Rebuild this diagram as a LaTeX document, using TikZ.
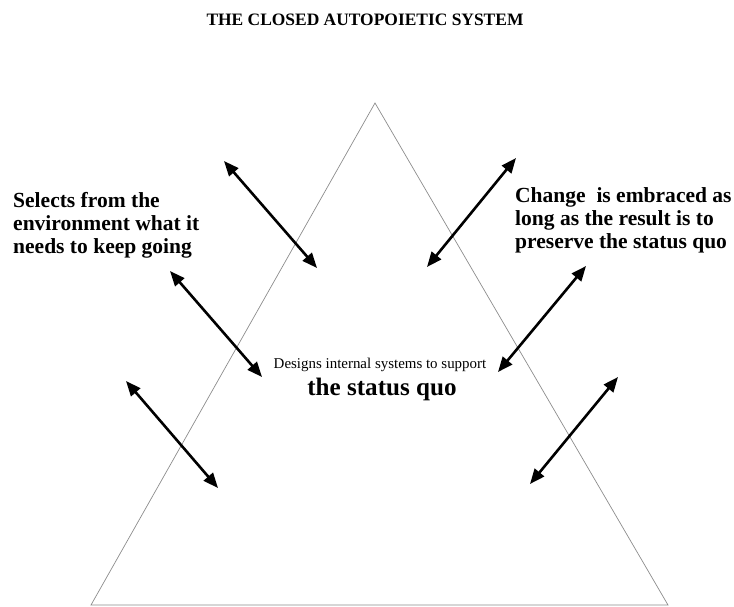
\documentclass[tikz,border=0pt]{standalone}
\usepackage{fontspec}
\setmainfont{Liberation Serif}
\usetikzlibrary{arrows.meta}
\begin{document}
\begin{tikzpicture}[x=1bp,y=-1bp,
  triedge/.style={draw=black!45, line width=0.7bp},
  dblarrow/.style={{Triangle[length=15bp,width=12bp]}-{Triangle[length=15bp,width=12bp]}, line width=2.6bp, black},
  bodytext/.style={inner sep=0pt, anchor=base west, font=\bfseries\fontsize{21.6}{23}\selectfont},
  ]
\path[use as bounding box] (0,0) rectangle (734,607);
% triangle
\coordinate (apex) at (375,103);
\coordinate (bl) at (91,605);
\coordinate (br) at (668,605);
\draw[triedge] (apex) -- (br) -- (bl) -- cycle;
% title
\node[inner sep=0pt, anchor=base, font=\bfseries\fontsize{17.5}{20}\selectfont] (title) at (365,26) {THE CLOSED AUTOPOIETIC SYSTEM};
% side texts
\node[bodytext] (left) at (13,208) {\begin{tabular}[t]{@{}l@{}}Selects from the\\ environment what it\\ needs to keep going\end{tabular}};
\node[bodytext] (right) at (515,203) {\begin{tabular}[t]{@{}l@{}}Change\ \ is embraced as\\ long as the result is to\\ preserve the status quo\end{tabular}};
% center texts
\node[inner sep=0pt, anchor=base, font=\fontsize{15}{17}\selectfont] (design) at (380,368) {Designs internal systems to support};
\node[inner sep=0pt, anchor=base, font=\bfseries\fontsize{25.2}{28}\selectfont] (quo) at (382,395) {the status quo};
% arrows
\coordinate (a1s) at (224,161); \coordinate (a1e) at (317,268);
\coordinate (a2s) at (170,271); \coordinate (a2e) at (262,377);
\coordinate (a3s) at (126,381); \coordinate (a3e) at (218,488);
\coordinate (a4s) at (516,158); \coordinate (a4e) at (427,267);
\coordinate (a5s) at (586,266); \coordinate (a5e) at (498,372);
\coordinate (a6s) at (618,377); \coordinate (a6e) at (530,484);
\draw[dblarrow] (a1s) -- (a1e);
\draw[dblarrow] (a2s) -- (a2e);
\draw[dblarrow] (a3s) -- (a3e);
\draw[dblarrow] (a4s) -- (a4e);
\draw[dblarrow] (a5s) -- (a5e);
\draw[dblarrow] (a6s) -- (a6e);
\end{tikzpicture}
\end{document}
